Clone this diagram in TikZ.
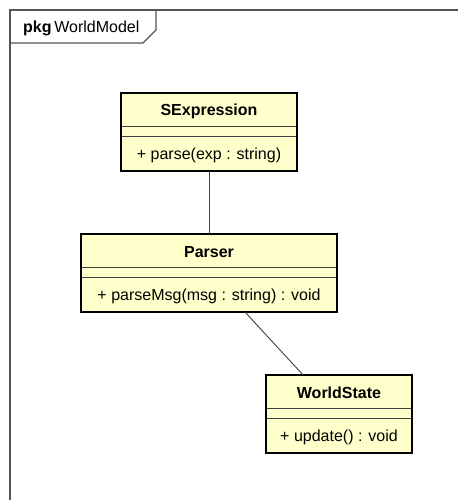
\documentclass[tikz,border=0pt]{standalone}
\usepackage{fontspec}
\setmainfont{Liberation Sans}
\usepackage{xcolor}
\usetikzlibrary{shapes.multipart,positioning}
\definecolor{clsfill}{RGB}{255,255,204}
\definecolor{frm}{RGB}{85,85,85}
\newcommand{\hdstrut}{\rule[-10pt]{0pt}{33pt}}
\newcommand{\opstrut}{\rule[-12pt]{0pt}{35pt}}
\tikzset{
  umlcls/.style ={rectangle split,rectangle split parts=3,rectangle split draw splits=false,
                  rectangle split empty part height=10pt,rectangle split empty part depth=0pt,
                  line width=0pt,fill=clsfill,inner xsep=0pt,inner ysep=0pt,
                  font=\fontsize{16}{19}\selectfont},
  clsbrd/.style ={line width=1.6pt,draw=black},
  splitln/.style={line width=0.9pt,draw=black!75},
  assoc/.style  ={line width=0.9pt,draw=black!75},
  pkgfrm/.style ={line width=1.6pt,draw=frm},
}
\begin{document}
\begin{tikzpicture}[x=1pt,y=-1pt]
  \useasboundingbox (0,0) rectangle (458,500);
  % package frame
  \draw[pkgfrm] (10,500) -- (10,10) -- (458,10);
  \draw[pkgfrm,line width=1.2pt] (10,43) -- (143,43) -- (156,30) -- (156,10);
  \node[anchor=base west,inner sep=0pt,font=\fontsize{16}{19}\selectfont] (pkgname) at (23,33) {\textbf{pkg}\,WorldModel};
  % classes
  \node[umlcls,minimum width=176pt,anchor=north] (sexp) at (209,93)
    {\hdstrut\textbf{SExpression}\nodepart{second}\nodepart{third}\opstrut+ parse(exp : string)};
  \node[umlcls,minimum width=256pt,anchor=north] (parser) at (209,234)
    {\hdstrut\textbf{Parser}\nodepart{second}\nodepart{third}\opstrut+ parseMsg(msg : string) : void};
  \node[umlcls,minimum width=146pt,anchor=north] (wstate) at (339,375)
    {\hdstrut\textbf{WorldState}\nodepart{second}\nodepart{third}\opstrut+ update() : void};
  \foreach \c in {sexp,parser,wstate}{
    \draw[splitln] (\c.text split west) -- (\c.text split east);
    \draw[splitln] (\c.second split west) -- (\c.second split east);
    \draw[clsbrd] (\c.north west) rectangle (\c.south east);
  }
  % associations
  \draw[assoc] (sexp) -- (parser);
  \draw[assoc] (parser) -- (wstate);
\end{tikzpicture}
\end{document}
